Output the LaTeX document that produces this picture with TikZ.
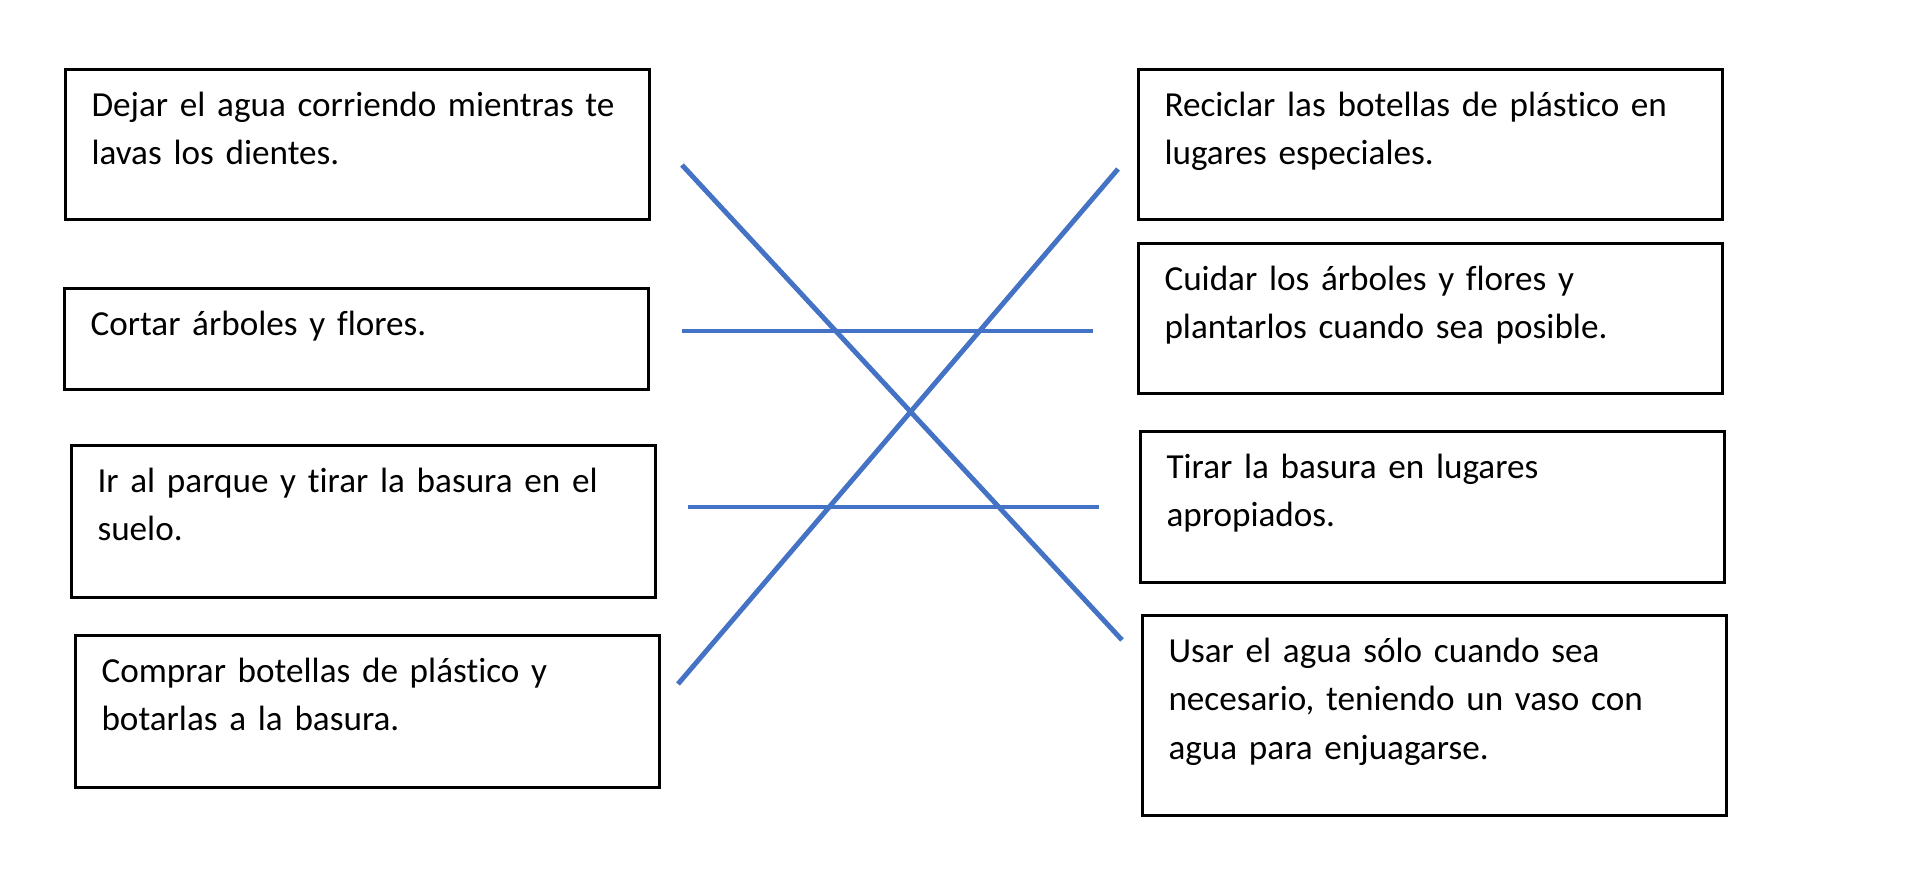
\documentclass[tikz,border=0pt]{standalone}
\usepackage{fontspec}
\setmainfont{Carlito}[Ligatures=CommonOff]
\definecolor{azul}{HTML}{4472C4}
\tikzset{
	caja/.style={draw, line width=0.85pt, anchor=north west, minimum width=5.84cm,
		inner xsep=0.26cm, inner ysep=0pt, text width=5.32cm, align=left,
		font=\fontsize{10pt}{13.8pt}\selectfont, text height=0.467cm},
	union/.style={azul, line width=1.4pt}
}
\begin{document}
\begin{tikzpicture}[x=0.01cm, y=-0.01cm]
	\useasboundingbox (0,0) rectangle (1924,878);
	% columna izquierda
	\node[caja, text depth=1.033cm] (izq1) at (64,68) {Dejar el agua corriendo mientras te\\lavas los dientes.};
	\node[caja, text depth=0.543cm] (izq2) at (63,287) {Cortar árboles y flores.};
	\node[caja, text depth=1.053cm] (izq3) at (70,444) {Ir al parque y tirar la basura en el\\suelo.};
	\node[caja, text depth=1.053cm] (izq4) at (74,634) {Comprar botellas de plástico y\\botarlas a la basura.};
	% columna derecha
	\node[caja, text depth=1.033cm] (der1) at (1137,68) {Reciclar las botellas de plástico en\\lugares especiales.};
	\node[caja, text depth=1.033cm] (der2) at (1137,242) {Cuidar los árboles y flores y\\plantarlos cuando sea posible.};
	\node[caja, text depth=1.043cm] (der3) at (1139,430) {Tirar la basura en lugares\\apropiados.};
	\node[caja, text depth=1.533cm] (der4) at (1141,614) {Usar el agua sólo cuando sea\\necesario, teniendo un vaso con\\agua para enjuagarse.};
	% extremos de las lineas
	\coordinate (a1) at (682,165);
	\coordinate (a2) at (1122,640);
	\coordinate (b1) at (682,331);
	\coordinate (b2) at (1093,331);
	\coordinate (c1) at (688,507);
	\coordinate (c2) at (1099,507);
	\coordinate (d1) at (678,684);
	\coordinate (d2) at (1118,169);
	\draw[union] (a1) -- (a2);
	\draw[union] (b1) -- (b2);
	\draw[union] (c1) -- (c2);
	\draw[union] (d1) -- (d2);
\end{tikzpicture}
\end{document}
